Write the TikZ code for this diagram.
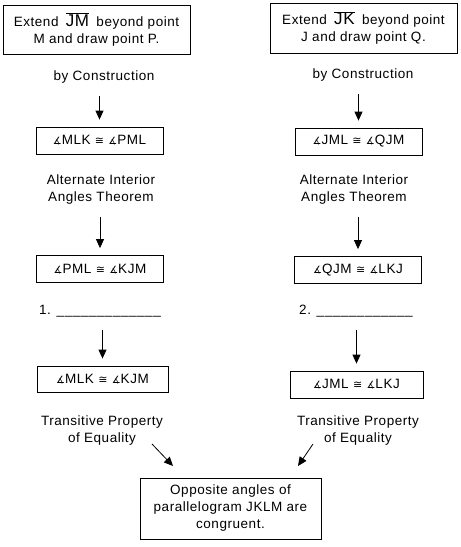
\documentclass[tikz,border=0pt]{standalone}
\usepackage{fontspec}
\setmainfont[LetterSpace=4]{Liberation Sans}
\newfontfamily\symfont{DejaVu Sans}
\usetikzlibrary{arrows.meta,positioning}
\newcommand{\ang}{{\symfont\fontsize{10}{10}\selectfont ∡}}
\newcommand{\congr}{{\symfont\fontsize{11}{11}\selectfont ≅}}
\newcommand{\seg}[1]{\hspace{3pt}$\overline{\mbox{\fontsize{17}{17}\selectfont #1}}$\hspace{3pt}}

\begin{document}
\begin{tikzpicture}[x=1pt,y=-1pt]
    \tikzset{
      box/.style={draw,line width=0.8pt,minimum width=127pt,minimum height=27pt,inner sep=0pt,align=center,font=\fontsize{13.5}{17}\selectfont},
      reason/.style={inner sep=0pt,align=center,font=\fontsize{13.5}{17}\selectfont},
      arrow/.style={-{Triangle[length=9pt,width=8pt]},line width=0.8pt,shorten >=7pt,shorten <=13pt},
      slant/.style={-{Triangle[length=9pt,width=8pt]},line width=0.8pt}
    }
    \useasboundingbox (0,0) rectangle (461,547);
    % left column
    \node[box,minimum width=187pt,minimum height=49pt] (lstart) at (96.5,29.5) {Extend \seg{JM} beyond point\\M and draw point P.};
    \node[reason] (lcons) at (104,77) {by Construction};
    \node[box] (lone) at (99.5,140.5) {\ang MLK \congr{} \ang PML};
    \node[reason] (lalt) at (101,189.5) {Alternate Interior\\Angles Theorem};
    \node[box] (ltwo) at (100,269) {\ang PML \congr{} \ang KJM};
    \node[reason] (lblank) at (100,311) {1. \_\_\_\_\_\_\_\_\_\_\_\_\_};
    \node[box,minimum width=131pt,minimum height=26pt] (lthree) at (102.5,379) {\ang MLK \congr{} \ang KJM};
    \node[reason] (ltrans) at (102,431) {Transitive Property\\of Equality};
    % right column
    \node[box,minimum width=187pt,minimum height=50pt] (rstart) at (363.5,28) {Extend \seg{JK} beyond point\\J and draw point Q.};
    \node[reason] (rcons) at (363,75) {by Construction};
    \node[box] (rone) at (358.5,141.5) {\ang JML \congr{} \ang QJM};
    \node[reason] (ralt) at (354,189.5) {Alternate Interior\\Angles Theorem};
    \node[box] (rtwo) at (358,270) {\ang QJM \congr{} \ang LKJ};
    \node[reason] (rblank) at (356,311) {2. \_\_\_\_\_\_\_\_\_\_\_\_};
    \node[box,minimum width=133pt] (rthree) at (356.5,384.5) {\ang JML \congr{} \ang LKJ};
    \node[reason] (rtrans) at (358,431) {Transitive Property\\of Equality};
    % conclusion
    \node[box,minimum width=181pt,minimum height=61pt] (final) at (230.5,508.5) {Opposite angles of\\parallelogram JKLM are\\congruent.};
    \coordinate (ltail) at (152,444);
    \coordinate (ltip) at (173,466);
    \coordinate (rtail) at (313,444);
    \coordinate (rtip) at (298,466);
    \draw[arrow] (lcons.south -| lone.north) -- (lone.north);
    \draw[arrow] (lalt.south -| ltwo.north) -- (ltwo.north);
    \draw[arrow] (lblank.south -| lthree.north) -- (lthree.north);
    \draw[arrow] (rcons.south -| rone.north) -- (rone.north);
    \draw[arrow] (ralt.south -| rtwo.north) -- (rtwo.north);
    \draw[arrow] (rblank.south -| rthree.north) -- (rthree.north);
    \draw[slant] (ltail) -- (ltip);
    \draw[slant] (rtail) -- (rtip);
  \end{tikzpicture}
\end{document}
